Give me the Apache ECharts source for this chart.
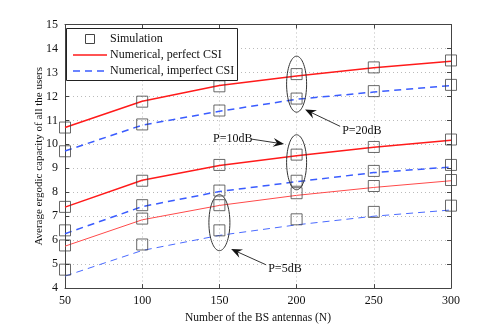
<!DOCTYPE html>
<html>
<head>
<meta charset="utf-8">
<script src="https://cdn.jsdelivr.net/npm/echarts@6/dist/echarts.min.js"></script>
<style>
html, body { margin: 0; padding: 0; background: #fff; }
#main { width: 498px; height: 329px; }
</style>
</head>
<body>
<div id="main"></div>
<script>
var antennas = [50, 100, 150, 200, 250, 300];

// numerical curves
var perfect20 = [10.7, 11.8, 12.45, 12.85, 13.2, 13.47];
var imperfect20 = [9.72, 10.8, 11.38, 11.88, 12.18, 12.45];
var perfect10 = [7.38, 8.5, 9.12, 9.52, 9.88, 10.17];
var imperfect10 = [6.27, 7.4, 8.03, 8.44, 8.82, 9.05];
var perfect5 = [5.75, 6.85, 7.45, 7.87, 8.2, 8.48];
var imperfect5 = [4.5, 5.57, 6.2, 6.64, 7.0, 7.26];

// simulation points
var sim20p = [10.7, 11.78, 12.42, 12.93, 13.21, 13.5];
var sim20i = [9.71, 10.83, 11.41, 11.91, 12.22, 12.48];
var sim10p = [7.39, 8.48, 9.14, 9.57, 9.89, 10.2];
var sim10i = [6.41, 7.46, 8.07, 8.48, 8.89, 9.14];
var sim5p = [5.78, 6.9, 7.46, 7.96, 8.26, 8.51];
var sim5i = [4.77, 5.82, 6.41, 6.87, 7.18, 7.44];

var yTicks = [4, 15, 1];
var legendNames = ['Simulation', 'Numerical, perfect CSI', 'Numerical, imperfect CSI'];

// annotations in data coords
var ellipses = [
    {x: 200, y: 12.51, rx: 10, ry: 28},
    {x: 200, y: 9.25, rx: 10, ry: 27.5},
    {x: 150, y: 6.73, rx: 10.5, ry: 28}
];
var notes = [
    {text: 'P=20dB', x: 229.5, y: 10.55, from: [228.2, 10.75], to: [205.5, 11.45]},
    {text: 'P=10dB', x: 145.9, y: 10.22, from: [170.5, 10.22], to: [191.9, 10.01]},
    {text: 'P=5dB', x: 181.6, y: 4.8, from: [180.3, 4.97], to: [157.6, 5.63]}
];

var font = 'Liberation Serif';
var red = '#ff1a1a', blue = '#3a5cff';
var dom = document.getElementById('main');
var myChart = echarts.init(dom);

function pairs(vals) {
    return antennas.map(function (a, i) { return [a, vals[i]]; });
}

function curve(name, vals, color, width, dashed) {
    return {
        name: name,
        type: 'line',
        data: pairs(vals),
        symbol: 'none',
        lineStyle: {color: color, width: width, type: dashed ? [7, 5] : 'solid'},
        itemStyle: {color: color},
        z: 2
    };
}

function sim(vals) {
    return {
        name: 'Simulation',
        type: 'scatter',
        data: pairs(vals),
        symbol: 'rect',
        symbolSize: 11,
        itemStyle: {color: 'rgba(0,0,0,0)', borderColor: '#444', borderWidth: 1},
        z: 3
    };
}

var tickStyle = {fontFamily: font, fontSize: 12, color: '#111', margin: 7};
function frameAxis(pos) {
    return {
        type: 'value', position: pos,
        axisLine: {show: true, lineStyle: {color: '#444'}},
        axisTick: {show: true, inside: true, length: 4, lineStyle: {color: '#444'}},
        axisLabel: {show: false},
        splitLine: {show: false}
    };
}

var topX = frameAxis('top');
topX.min = 50; topX.max = 300; topX.interval = 50;
var rightY = frameAxis('right');
rightY.min = yTicks[0]; rightY.max = yTicks[1]; rightY.interval = yTicks[2];

var option = {
    animation: false,
    textStyle: {fontFamily: font},
    grid: {left: 65, right: 47, top: 24.5, bottom: 36.5},
    xAxis: [{
        type: 'value', min: 50, max: 300, interval: 50,
        name: 'Number of the BS antennas (N)',
        nameLocation: 'middle', nameGap: 17,
        nameTextStyle: {fontFamily: font, fontSize: 11.5, color: '#111'},
        axisLine: {lineStyle: {color: '#444'}},
        axisTick: {inside: true, length: 4, lineStyle: {color: '#444'}},
        axisLabel: tickStyle,
        splitLine: {show: true, lineStyle: {color: '#bbb', type: [1, 3]}}
    }, topX],
    yAxis: [{
        type: 'value', min: yTicks[0], max: yTicks[1], interval: yTicks[2],
        name: 'Average ergodic capacity of all the users',
        nameLocation: 'middle', nameGap: 20, nameMoveOverlap: false,
        nameTextStyle: {fontFamily: font, fontSize: 11, color: '#111'},
        axisLine: {lineStyle: {color: '#444'}},
        axisTick: {inside: true, length: 4, lineStyle: {color: '#444'}},
        axisLabel: tickStyle,
        splitLine: {show: true, lineStyle: {color: '#bbb', type: [1, 3]}}
    }, rightY],
    series: [
        curve(legendNames[1], perfect20, red, 1.5, false),
        curve(legendNames[2], imperfect20, blue, 1.5, true),
        curve(legendNames[1], perfect10, red, 1.5, false),
        curve(legendNames[2], imperfect10, blue, 1.5, true),
        curve(legendNames[1], perfect5, '#ff4a4a', 1, false),
        curve(legendNames[2], imperfect5, '#4a6aff', 1, true),
        sim(sim20p), sim(sim20i), sim(sim10p), sim(sim10i), sim(sim5p), sim(sim5i)
    ]
};

myChart.setOption(option, true);

// annotations: ellipses, texts and arrows placed through the axes
function px(x, y) { return myChart.convertToPixel({gridIndex: 0}, [x, y]); }

var graphics = [];
ellipses.forEach(function (e) {
    var c = px(e.x, e.y);
    graphics.push({
        type: 'ellipse', shape: {cx: c[0], cy: c[1], rx: e.rx, ry: e.ry},
        style: {fill: null, stroke: '#333', lineWidth: 1}, z: 10
    });
});
notes.forEach(function (n) {
    var t = px(n.x, n.y);
    var a = px(n.from[0], n.from[1]);
    var b = px(n.to[0], n.to[1]);
    graphics.push({
        type: 'text', x: t[0], y: t[1],
        style: {text: n.text, font: '12px "Liberation Serif"', fill: '#111', textVerticalAlign: 'middle'},
        z: 10
    });
    var dx = b[0] - a[0], dy = b[1] - a[1];
    var len = Math.sqrt(dx * dx + dy * dy);
    var ux = dx / len, uy = dy / len;
    var L = 11, W = 4.5;
    var base = [b[0] - ux * L, b[1] - uy * L];
    var notch = [b[0] - ux * L * 0.65, b[1] - uy * L * 0.65];
    graphics.push({
        type: 'line', shape: {x1: a[0], y1: a[1], x2: notch[0], y2: notch[1]},
        style: {stroke: '#333', lineWidth: 1}, z: 10
    });
    graphics.push({
        type: 'polygon',
        shape: {points: [
            b,
            [base[0] - uy * W, base[1] + ux * W],
            notch,
            [base[0] + uy * W, base[1] - ux * W]
        ]},
        style: {fill: '#111'}, z: 10
    });
});

// legend box (MATLAB style)
var lx = 66, ly = 28, rowH = 16;
graphics.push({
    type: 'rect', shape: {x: lx + 0.5, y: ly + 0.5, width: 171, height: 52},
    style: {fill: '#fff', stroke: '#222', lineWidth: 1}, z: 20
});
graphics.push({
    type: 'rect', shape: {x: lx + 19.5, y: ly + 11 - 4.5, width: 9, height: 9},
    style: {fill: null, stroke: '#444', lineWidth: 1}, z: 21
});
graphics.push({
    type: 'line', shape: {x1: lx + 7, y1: ly + 11 + rowH, x2: lx + 41, y2: ly + 11 + rowH},
    style: {stroke: red, lineWidth: 1.5}, z: 21
});
graphics.push({
    type: 'line', shape: {x1: lx + 7, y1: ly + 11 + 2 * rowH, x2: lx + 41, y2: ly + 11 + 2 * rowH},
    style: {stroke: blue, lineWidth: 1.5, lineDash: [7, 5]}, z: 21
});
legendNames.forEach(function (name, i) {
    graphics.push({
        type: 'text', x: lx + 44, y: ly + 11 + i * rowH,
        style: {text: name, font: '12px "Liberation Serif"', fill: '#111', textVerticalAlign: 'middle'},
        z: 21
    });
});

myChart.setOption({graphic: graphics});
</script>
</body>
</html>
